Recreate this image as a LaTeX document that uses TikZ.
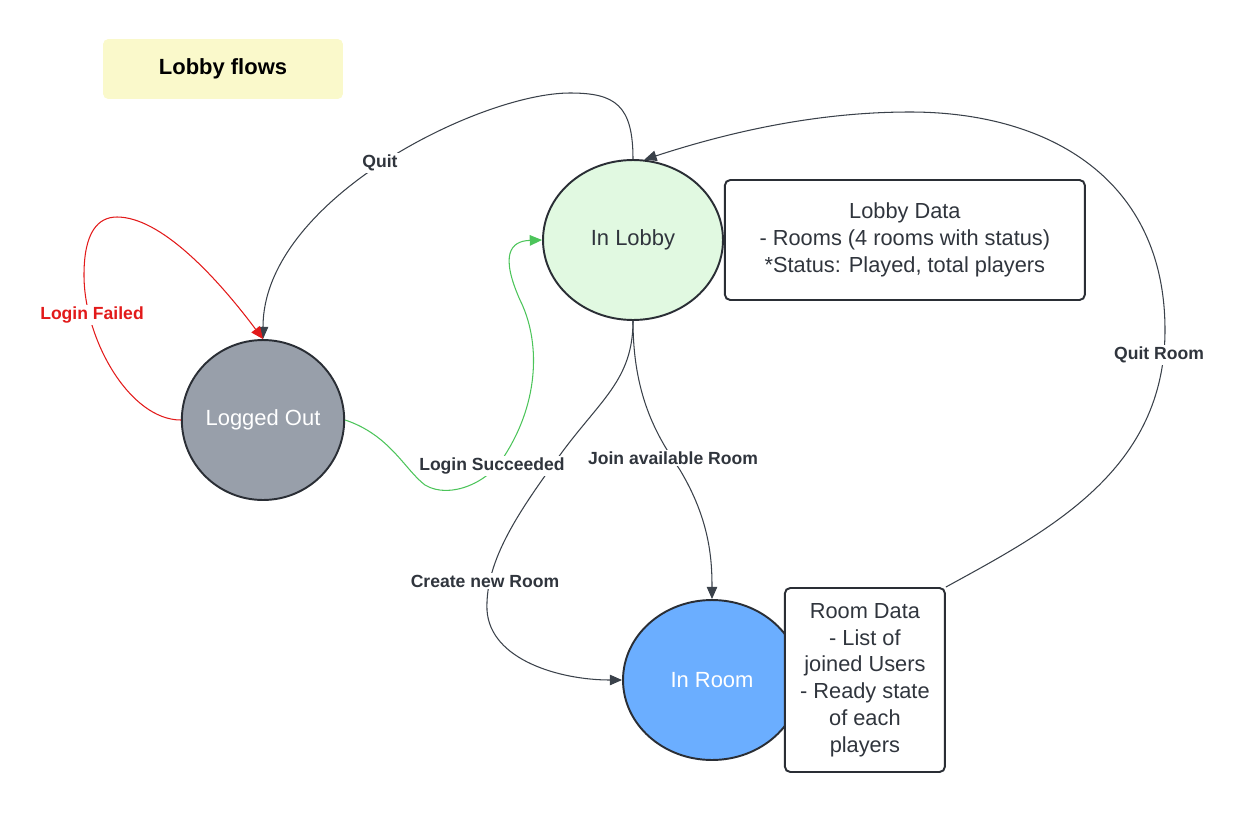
\documentclass[tikz,border=0pt]{standalone}
\usepackage{fontspec}
\setmainfont{Liberation Sans}
\usetikzlibrary{arrows.meta,positioning,shapes.geometric}
\definecolor{edgegray}{HTML}{3A414A}
\definecolor{outline}{HTML}{2A2E35}
\definecolor{textgray}{HTML}{30353D}
\definecolor{failred}{HTML}{E21A1A}
\definecolor{okgreen}{HTML}{4CC45A}
\definecolor{titlefill}{HTML}{FAF9CB}
\definecolor{outfill}{HTML}{989FAA}
\definecolor{lobbyfill}{HTML}{E1F9E1}
\definecolor{roomfill}{HTML}{6BAEFF}
\tikzset{
    %Define standard arrow tip
    >={Triangle[length=7pt,width=6pt]},
    %Define style for states
    state/.style={
           ellipse,
           draw=outline,
           line width=1.1pt,
           inner sep=0pt,
           font=\fontsize{12.5}{15}\selectfont,
           },
    %Define style for data boxes
    databox/.style={
           rectangle,
           rounded corners=3pt,
           draw=outline,
           line width=1.1pt,
           fill=white,
           text=textgray,
           align=center,
           inner sep=0pt,
           font=\fontsize{12.4}{15.2}\selectfont,
           },
    % Define label and arrow styles
    lbl/.style={
           fill=white,
           text=textgray,
           inner sep=1pt,
           font=\bfseries\fontsize{10}{12}\selectfont,},
    flow/.style={
           ->,
           draw=edgegray,
           line width=0.6pt,}
}
\begin{document}
\begin{tikzpicture}[x=0.02cm,y=-0.02cm]
\useasboundingbox (0,0) rectangle (1245,812);
 %nodes
\node[rectangle, rounded corners=3pt, fill=titlefill, minimum width=4.8cm, minimum height=1.2cm,
  font=\bfseries\fontsize{12.5}{15}\selectfont] (title) at (223,69) {Lobby flows};
\node[state, fill=outfill, text=white, minimum width=3.2cm, minimum height=3.2cm] (out) at (263,420) {Logged Out};
\node[state, fill=lobbyfill, text=textgray, minimum width=3.6cm, minimum height=3.2cm] (lobby) at (633,240) {In Lobby};
\node[state, fill=roomfill, text=white, minimum width=3.56cm, minimum height=3.2cm] (room) at (712,680) {In Room};
\node[databox, right=0pt of lobby, minimum width=7.2cm, minimum height=2.4cm] (lobbydata)
  {Lobby Data\\- Rooms (4 rooms with status)\\*Status: Played, total players};
\node[databox, right=-0.36cm of room, minimum width=3.2cm, minimum height=3.68cm] (roomdata)
  {Room Data\\- List of\\joined Users\\- Ready state\\of each\\players};
 %edges
\draw[flow] (lobby.north) .. controls (633,105) and (615,93) .. (570,93)
    .. controls (480,93) and (263,200) .. (out.north);
\draw[flow, draw=failred, fill=none] (out.west) .. controls (130,420) and (84,340) .. (84,275)
    .. controls (84,232) and (98,217) .. (117,217) .. controls (160,217) and (215,275) .. (out.north);
\draw[flow, draw=okgreen] (out.east) .. controls (390,435) and (405,470) .. (425,485)
    .. controls (450,500) and (490,482) .. (505,455) .. controls (540,400) and (540,340) .. (520,300)
    .. controls (500,255) and (510,241) .. (lobby.west);
\draw[flow] (lobby.south) .. controls (633,380) and (600,400) .. (560,455)
    .. controls (520,510) and (485,560) .. (487,610) .. controls (490,660) and (560,680) .. (room.west);
\draw[flow] (lobby.south) .. controls (633,400) and (660,440) .. (680,470)
    .. controls (710,520) and (712,560) .. (room.north);
\draw[flow] (roomdata.north east) .. controls (1050,530) and (1165,470) .. (1165,330)
    .. controls (1165,180) and (1050,112) .. (910,112) .. controls (810,112) and (720,135) .. (lobby.82);
 %labels
\node[lbl] (quit) at (380,163) {Quit};
\node[lbl, text=failred] (failed) at (92,315) {Login Failed};
\node[lbl] (succeeded) at (492,466) {Login Succeeded};
\node[lbl] (join) at (673,458) {Join available Room};
\node[lbl] (create) at (485,581) {Create new Room};
\node[lbl] (quitroom) at (1159,355) {Quit Room};
\end{tikzpicture}
\end{document}
